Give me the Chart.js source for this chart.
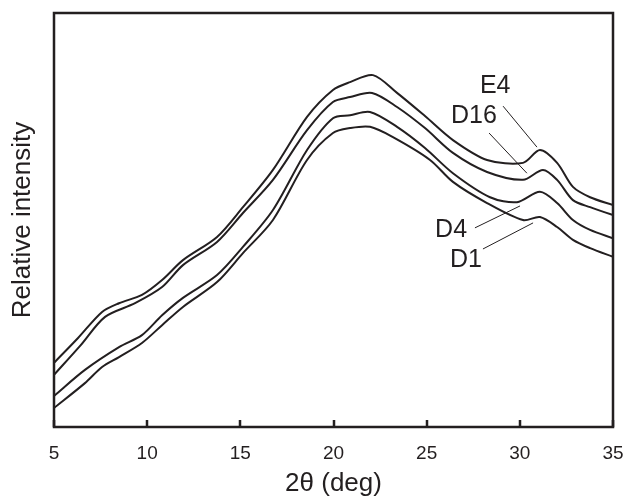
<!DOCTYPE html>
<html>
<head>
<meta charset="utf-8">
<script src="https://cdn.jsdelivr.net/npm/chart.js@4.4.1/dist/chart.umd.min.js"></script>
<style>
  html, body { margin: 0; padding: 0; background: #fff; }
  #wrap { width: 625px; height: 497px; }
</style>
</head>
<body>
<div id="wrap"><canvas id="xrdChart" width="625" height="497"></canvas></div>
<script>
// 2θ positions (deg) and relative intensity (a.u.)
const e4X  = [5, 6.29, 7.58, 8.49, 9.72, 10.8, 11.92, 13.75, 15.14, 16.75, 18.58, 19.97, 20.89, 22.12, 23.41, 24.91, 26.41, 28.24, 30.17, 31.08, 32.0, 32.85, 33.77, 35];
const e4Y  = [15.5, 21.5, 27.8, 29.9, 31.9, 35.5, 40.3, 45.9, 53.1, 62.1, 74.9, 81.4, 83.3, 85.0, 80.7, 75.1, 69.3, 64.5, 63.8, 66.9, 63.8, 58.0, 55.5, 53.6];

const d16X = [5, 6.4, 7.74, 9.35, 10.8, 11.92, 13.75, 15.14, 16.75, 18.58, 19.97, 20.89, 22.07, 23.41, 24.91, 26.41, 28.24, 30.17, 31.24, 32.0, 32.85, 33.77, 35];
const d16Y = [12.6, 19.6, 26.6, 29.9, 33.8, 39.1, 44.7, 51.7, 59.7, 71.7, 78.5, 79.7, 80.7, 77.3, 72.2, 66.2, 61.6, 59.7, 62.1, 59.7, 54.8, 53.1, 51.2];

const d4X  = [5, 6.66, 8.49, 9.72, 10.8, 11.92, 13.75, 15.14, 16.75, 18.58, 19.97, 20.89, 21.96, 23.41, 24.91, 26.41, 28.4, 29.85, 31.08, 32.0, 32.85, 33.77, 35];
const d4Y  = [7.5, 13.8, 19.3, 22.2, 27.0, 31.2, 36.7, 43.5, 52.4, 66.9, 74.6, 75.3, 76.1, 72.5, 67.4, 61.3, 55.5, 54.3, 56.8, 54.1, 50.0, 47.6, 45.6];

const d1X  = [5, 6.66, 7.58, 8.49, 9.72, 10.8, 11.92, 13.75, 15.14, 16.75, 18.58, 19.97, 20.89, 21.96, 23.19, 25.18, 26.41, 28.24, 30.17, 31.08, 32.0, 32.85, 33.77, 35];
const d1Y  = [4.6, 10.6, 14.5, 16.9, 20.3, 24.6, 29.0, 35.0, 42.0, 50.0, 64.5, 71.0, 72.2, 72.5, 70.0, 64.5, 59.2, 54.1, 50.0, 50.7, 48.3, 45.2, 43.2, 41.1];

const xTicks = [5, 10, 15, 20, 25, 30, 35];

// sample labels: text position and leader line (data units)
const labelNames = ['E4', 'D16', 'D4', 'D1'];
const labelPos   = [[28.68, 82.4], [27.54, 75.1], [26.31, 47.6], [27.11, 40.3]];
const leaderFrom = [[29.10, 77.5], [28.35, 71.0], [27.59, 48.1], [28.02, 43.0]];
const leaderTo   = [[30.92, 67.6], [30.38, 61.3], [30.01, 53.4], [30.71, 49.3]];

const INK = '#231f20';
const FONT = "'Liberation Sans', Arial, Helvetica, sans-serif";

function toPoints(xs, ys) {
    return xs.map((x, i) => ({ x: x, y: ys[i] }));
}

function makeSet(label, xs, ys) {
    return {
        label: label,
        data: toPoints(xs, ys),
        borderColor: INK,
        borderWidth: 2,
        pointRadius: 0,
        fill: false,
        tension: 0.3
    };
}

const framePlugin = {
    id: 'frame',
    afterDraw(chart) {
        const { ctx, chartArea: a, scales } = chart;
        ctx.save();
        ctx.strokeStyle = INK;
        ctx.lineWidth = 2.5;
        ctx.strokeRect(a.left, a.top, a.right - a.left, a.bottom - a.top);

        // inward tick marks on the 2θ axis
        ctx.beginPath();
        xTicks.forEach(v => {
            const px = Math.round(scales.x.getPixelForValue(v));
            ctx.moveTo(px, a.bottom);
            ctx.lineTo(px, a.bottom - 7);
        });
        ctx.stroke();

        // leader lines and sample labels
        ctx.lineWidth = 1;
        ctx.fillStyle = INK;
        ctx.font = '25px ' + FONT;
        ctx.textAlign = 'center';
        ctx.textBaseline = 'middle';
        labelNames.forEach((name, i) => {
            ctx.beginPath();
            ctx.moveTo(scales.x.getPixelForValue(leaderFrom[i][0]), scales.y.getPixelForValue(leaderFrom[i][1]));
            ctx.lineTo(scales.x.getPixelForValue(leaderTo[i][0]), scales.y.getPixelForValue(leaderTo[i][1]));
            ctx.stroke();
            ctx.fillText(name, scales.x.getPixelForValue(labelPos[i][0]), scales.y.getPixelForValue(labelPos[i][1]));
        });
        ctx.restore();
    }
};

const ctx = document.getElementById('xrdChart').getContext('2d');
new Chart(ctx, {
    type: 'line',
    data: {
        datasets: [
            makeSet('E4', e4X, e4Y),
            makeSet('D16', d16X, d16Y),
            makeSet('D4', d4X, d4Y),
            makeSet('D1', d1X, d1Y)
        ]
    },
    options: {
        responsive: false,
        animation: false,
        layout: { autoPadding: false, padding: { top: 13, right: 12, left: 0, bottom: 0 } },
        plugins: {
            legend: { display: false },
            tooltip: { enabled: false }
        },
        scales: {
            x: {
                type: 'linear',
                min: 5,
                max: 35,
                afterBuildTicks: scale => {
                    scale.ticks = xTicks.map(v => ({ value: v }));
                },
                afterFit: scale => {
                    scale.height = 70;
                    scale.paddingLeft = 0;
                    scale.paddingRight = 0;
                },
                border: { display: false },
                grid: { display: false },
                ticks: {
                    color: INK,
                    padding: 7,
                    maxRotation: 0,
                    font: { family: FONT, size: 19 }
                },
                title: {
                    display: true,
                    text: '2θ (deg)',
                    color: INK,
                    font: { family: FONT, size: 26, lineHeight: 1 },
                    padding: { top: 0, bottom: 0 }
                }
            },
            y: {
                min: 0,
                max: 100,
                afterFit: scale => {
                    scale.width = 54;
                    scale.paddingTop = 0;
                    scale.paddingBottom = 0;
                },
                border: { display: false },
                grid: { display: false },
                ticks: { display: false },
                title: {
                    display: true,
                    text: 'Relative intensity',
                    color: INK,
                    font: { family: FONT, size: 26, lineHeight: 1 },
                    padding: { top: 10, bottom: 0 }
                }
            }
        }
    },
    plugins: [framePlugin]
});
</script>
</body>
</html>
